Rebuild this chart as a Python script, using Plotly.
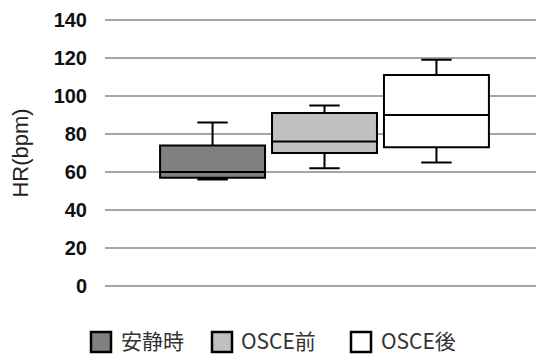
import plotly.graph_objects as go

# ---- data ----
series = ["安静時", "OSCE前", "OSCE後"]
category = ["HR"]
lower = [56, 62, 65]
q1 = [57, 70, 73]
median = [60, 76, 90]
q3 = [74, 91, 111]
upper = [86, 95, 119]
fill_colors = ["#808080", "#c0c0c0", "#ffffff"]
y_ticks = [0, 20, 40, 60, 80, 100, 120, 140]

OFF = 8  # page body margin
W, H = 544 - OFF, 356 - OFF
ML, MR, MT = 97, 0, 10
PH = 270
MB = H - MT - PH
PW = W - ML - MR

fig = go.Figure()
for i, name in enumerate(series):
    fig.add_trace(go.Box(
        name=name,
        x=category,
        q1=[q1[i]], median=[median[i]], q3=[q3[i]],
        lowerfence=[lower[i]], upperfence=[upper[i]],
        fillcolor=fill_colors[i],
        line=dict(color="black", width=2),
        whiskerwidth=0.29,
        boxpoints=False,
        showlegend=False,
        hoverinfo="skip",
    ))

# custom legend (big squares like the original), positions in window pixels
def px_x(px):
    return (px - OFF - ML) / PW

def px_y(py):
    return (MT + PH - (py - OFF)) / PH

leg_sq_x = [101, 222, 361]
leg_txt_x = [120, 240, 380]
leg_sq_y = 342
leg_txt_y = 340
for i, name in enumerate(series):
    fig.add_shape(type="rect", xref="paper", yref="paper",
                  x0=px_x(leg_sq_x[i] - 10), x1=px_x(leg_sq_x[i] + 10),
                  y0=px_y(leg_sq_y + 10), y1=px_y(leg_sq_y - 10),
                  fillcolor=fill_colors[i], line=dict(color="black", width=2.5))
    fig.add_annotation(text=name, xref="paper", yref="paper",
                       x=px_x(leg_txt_x[i]), y=px_y(leg_txt_y),
                       xanchor="left", yanchor="middle", showarrow=False,
                       borderpad=0,
                       font=dict(family="Noto Sans CJK JP", size=21, color="#333"))

fig.update_layout(
    width=W, height=H,
    margin=dict(l=ML, r=MR, t=MT, b=MB, pad=0),
    paper_bgcolor="white", plot_bgcolor="white",
    boxmode="group", boxgap=0.235, boxgroupgap=0.0625,
    showlegend=False,
    xaxis=dict(type="category", range=[-0.5, 0.5], showticklabels=False,
               showgrid=False, zeroline=False, showline=False, ticks=""),
    yaxis=dict(range=[-1, 141], tickvals=y_ticks, showgrid=True,
               gridcolor="#a6a6a6", gridwidth=2, zeroline=False, showline=False,
               ticks="", ticklabelstandoff=17,
               tickfont=dict(family="Liberation Sans", size=20, color="#111", weight="bold"),
               title=dict(text="HR(bpm)", standoff=26,
                          font=dict(family="Liberation Sans", size=22, color="#222"))),
)

fig.write_html("out.html")
